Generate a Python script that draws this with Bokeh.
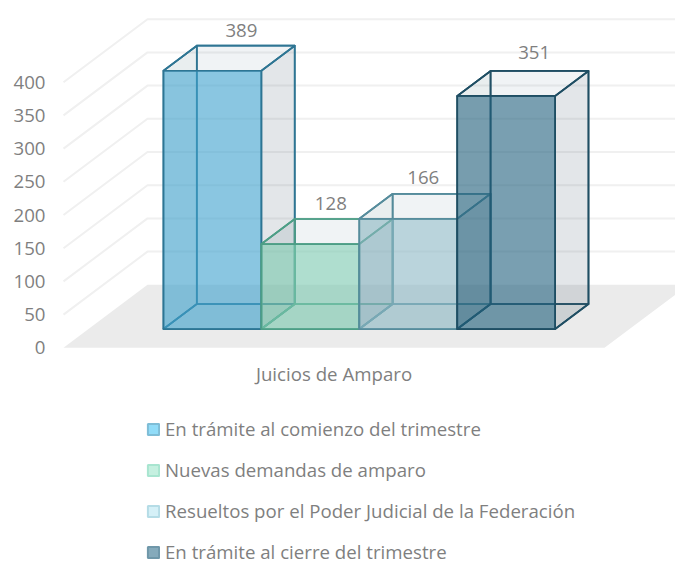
from bokeh.plotting import figure
from bokeh.embed import file_html
from bokeh.resources import INLINE
from bokeh.models import FixedTicker, Legend, LegendItem, Range1d
from bokeh.core.properties import value

categories = ["Juicios de Amparo"]
series_names = [
    "En trámite al comienzo del trimestre",
    "Nuevas demandas de amparo",
    "Resueltos por el Poder Judicial de la Federación",
    "En trámite al cierre del trimestre",
]
series_values = [389, 128, 166, 351]
value_ticks = [0, 50, 100, 150, 200, 250, 300, 350, 400]

front_colors = ["#3fa3cf", "#7dcbb1", "#8fbbc6", "#23627f"]
edge_colors = ["#2e7593", "#4d9e86", "#568c9c", "#1f4e63"]
swatch_fill = ["#91dcf8", "#c5f0e0", "#d5f0f7", "#85aabb"]
swatch_edge = ["#7fbdd6", "#a8e5d0", "#b5dce6", "#6f97a9"]

# layout of the projection, in screen pixels
W, H = 675, 563
PX_U = 541.0      # floor front edge length
PX_V = 0.664      # pixels per value unit
LEFT = 55         # frame starts this far from figure's left edge
X0, Y0 = 63, 347.3           # floor front-left corner inside the figure
DX, DY = 84.0, 63.0          # floor depth
BAR_U0, BAR_W = 0.1385, 0.181
D0, D1 = 0.298, 0.695
LABEL_SHIFT = [29, 20.5, 15, 28]
LABEL_RISE = [14, 15, 15, 17]
GREY = "#7f7f7f"
FONT_SIZE = "18.67px"

def px(u, v, d):
    return u + d * DX / PX_U, v + d * DY / PX_V

p = figure(width=W, height=H, output_backend="svg", toolbar_location=None,
           min_border_left=LEFT, min_border_right=0, min_border_top=0, min_border_bottom=0,
           x_axis_location=None, outline_line_color=None,
           x_range=Range1d((LEFT - X0) / PX_U, (W - X0) / PX_U),
           y_range=Range1d((Y0 - H) / PX_V, Y0 / PX_V))
p.grid.visible = False
p.background_fill_color = None
p.border_fill_color = None

ax = p.yaxis[0]
ax.ticker = FixedTicker(ticks=value_ticks)
ax.axis_line_color = None
ax.major_tick_line_color = None
ax.minor_tick_line_color = None
ax.major_tick_out = 0
ax.major_tick_in = 0
ax.major_label_standoff = 10
ax.major_label_text_font = "Open Sans"
ax.major_label_text_font_size = FONT_SIZE
ax.major_label_text_color = GREY

# floor
fx, fy = zip(*[px(0, 0, 0), px(1, 0, 0), px(1, 0, 1), px(0, 0, 1)])
p.patch(list(fx), list(fy), fill_color="#ebebeb", line_color=None)

# walls' grid lines
gx, gy = [], []
for t in value_ticks[1:]:
    a, b = px(0, t, 0), px(0, t, 1)
    c = px(1.5, t, 1)
    gx.append([a[0], b[0], c[0]])
    gy.append([a[1], b[1], c[1]])
p.multi_line(gx, gy, line_color="#f0f0f0", line_width=2)

# bars
for i, val in enumerate(series_values):
    u0 = BAR_U0 + i * BAR_W
    u1 = u0 + BAR_W
    def face(*pts):
        xs, ys = zip(*[px(*q) for q in pts])
        return list(xs), list(ys)
    faces = [
        (face((u0, 0, D1), (u1, 0, D1), (u1, val, D1), (u0, val, D1)), 0.02, "#2f4858"),  # back
        (face((u0, 0, D0), (u1, 0, D0), (u1, 0, D1), (u0, 0, D1)), 0.05, "#2f4858"),      # bottom
        (face((u0, 0, D0), (u0, 0, D1), (u0, val, D1), (u0, val, D0)), 0.05, "#2f4858"),  # left
        (face((u1, 0, D0), (u1, 0, D1), (u1, val, D1), (u1, val, D0)), 0.115, "#2f4858"),  # right
        (face((u0, val, D0), (u1, val, D0), (u1, val, D1), (u0, val, D1)), 0.06, "#3f7090"),  # top
    ]
    for (fxs, fys), alpha, col in faces:
        p.patch(fxs, fys, fill_color=col, fill_alpha=alpha,
                line_color=edge_colors[i], line_width=1.7, line_join="round")
    p.quad(left=[px(u0, 0, D0)[0]], right=[px(u1, 0, D0)[0]],
           bottom=[px(u0, 0, D0)[1]], top=[px(u0, val, D0)[1]],
           fill_color=front_colors[i], fill_alpha=0.6,
           line_color=edge_colors[i], line_width=1.7)

# value labels
for i, val in enumerate(series_values):
    uc = BAR_U0 + (i + 0.5) * BAR_W
    x = px(uc, val, D0)[0] + LABEL_SHIFT[i] / PX_U
    y = px(uc, val, D1)[1] + (LABEL_RISE[i] + 1) / PX_V
    p.text([x], [y], text=[str(val)], text_align="center", text_baseline="middle",
           text_font=value("Open Sans"), text_font_size=FONT_SIZE, text_color=GREY)

# category label
cat_u = (333.5 - X0) / PX_U
cat_v = (Y0 - 372.7) / PX_V
p.text([cat_u], [cat_v], text=categories, text_align="center", text_baseline="middle",
       text_font=value("Open Sans"), text_font_size=FONT_SIZE, text_color=GREY)

# legend
nan = float("nan")
items = []
for i, name in enumerate(series_names):
    r = p.quad(left=[nan], right=[nan], top=[nan], bottom=[nan], fill_color=swatch_fill[i],
               line_color=swatch_edge[i], line_width=2)
    items.append(LegendItem(label=name, renderers=[r]))
legend = Legend(items=items, location=(91, -1), orientation="vertical",
                spacing=16, padding=0, margin=0, glyph_width=14, glyph_height=14,
                label_standoff=5, label_text_font="Open Sans", label_text_font_size=FONT_SIZE,
                label_text_color=GREY, background_fill_alpha=0, border_line_color=None)
p.add_layout(legend)

open("out.html", "w").write(file_html(p, INLINE))
